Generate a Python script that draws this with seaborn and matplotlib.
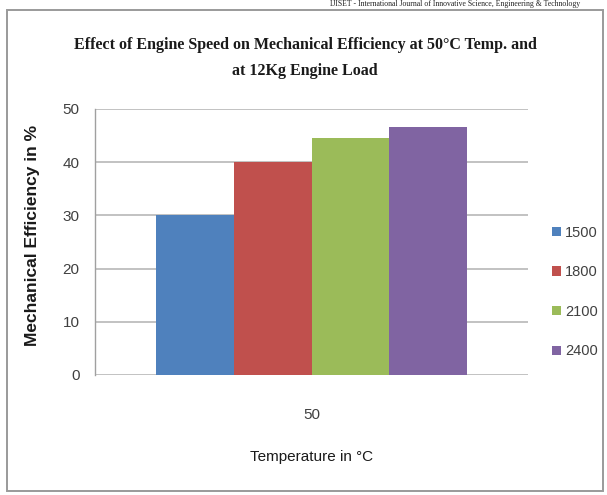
import matplotlib
matplotlib.use("Agg")
import matplotlib.pyplot as plt
from matplotlib.patches import Rectangle
import seaborn as sns
import pandas as pd

# Data
temperatures = ["50"]
engine_speeds = ["1500", "1800", "2100", "2400"]
efficiency = [30.0, 40.0, 44.5, 46.6]
y_ticks = [0, 10, 20, 30, 40, 50]
colors = ["#4F81BD", "#C0504D", "#9BBB59", "#8064A2"]

df = pd.DataFrame({
    "Temperature": temperatures * len(engine_speeds),
    "Speed": engine_speeds,
    "Efficiency": efficiency,
})

sns.set_style("white")
plt.rcParams["font.family"] = ["Liberation Sans", "DejaVu Sans"]

fig = plt.figure(figsize=(6.07, 4.95), dpi=100)
fig.patch.set_facecolor("white")

# page header above the chart
fig.text(330 / 607, 1 - 4 / 495,
         "IJISET - International Journal of Innovative Science, Engineering & Technology",
         ha="left", va="center", fontsize=5.6, family="Liberation Serif", color="#222222")

# chart frame
fig.add_artist(Rectangle((7 / 607, 4 / 495), 596 / 607, 481 / 495, transform=fig.transFigure,
                         fill=False, edgecolor="#9A9A9A", linewidth=1.4))

ax = fig.add_axes([95 / 607, 120 / 495, 433 / 607, 266 / 495])
sns.barplot(data=df, x="Temperature", y="Efficiency", hue="Speed",
            hue_order=engine_speeds, palette=colors, saturation=1,
            width=0.72, gap=0, ax=ax, legend=True, edgecolor="none")

ax.set_ylim(0, 50)
ax.set_xlim(-0.5, 0.5)
ax.set_yticks(y_ticks)
ax.set_yticklabels([str(t) for t in y_ticks], fontsize=11, color="#404040")
ax.tick_params(axis="x", labelsize=11, colors="#404040", length=0, pad=24)
ax.tick_params(axis="y", length=5, width=1, color="#A0A0A0", direction="out", pad=6)
ax.yaxis.grid(True, color="#B8B8B8", linewidth=1.2)
ax.set_axisbelow(True)
for side in ["top", "right", "bottom"]:
    ax.spines[side].set_visible(False)
ax.spines["left"].set_color("#A0A0A0")
ax.spines["left"].set_linewidth(1)

ax.set_xlabel("Temperature in °C", fontsize=11, color="#1a1a1a", labelpad=20)
ax.set_ylabel("Mechanical Efficiency in %", fontsize=12.5, fontweight="bold",
              color="#1a1a1a")
ax.yaxis.set_label_coords(-0.127, 0.526)

handles, labels = ax.get_legend_handles_labels()
ax.legend(handles, labels, loc="center left", bbox_to_anchor=(539 / 607, 1 - 292 / 495),
          bbox_transform=fig.transFigure, frameon=False, fontsize=10.5,
          handlelength=0.6, handleheight=0.6, handletextpad=0.3, labelspacing=1.75,
          labelcolor="#404040")

fig.text(305 / 607, 1 - 45 / 495,
         "Effect of Engine Speed on Mechanical Efficiency at 50°C Temp. and",
         ha="center", va="center", fontsize=11.5, fontweight="bold",
         family="Liberation Serif", color="#1a1a1a")
fig.text(305 / 607, 1 - 71 / 495, "at 12Kg Engine Load",
         ha="center", va="center", fontsize=11.5, fontweight="bold",
         family="Liberation Serif", color="#1a1a1a")

fig.savefig("out.png", dpi=100)
